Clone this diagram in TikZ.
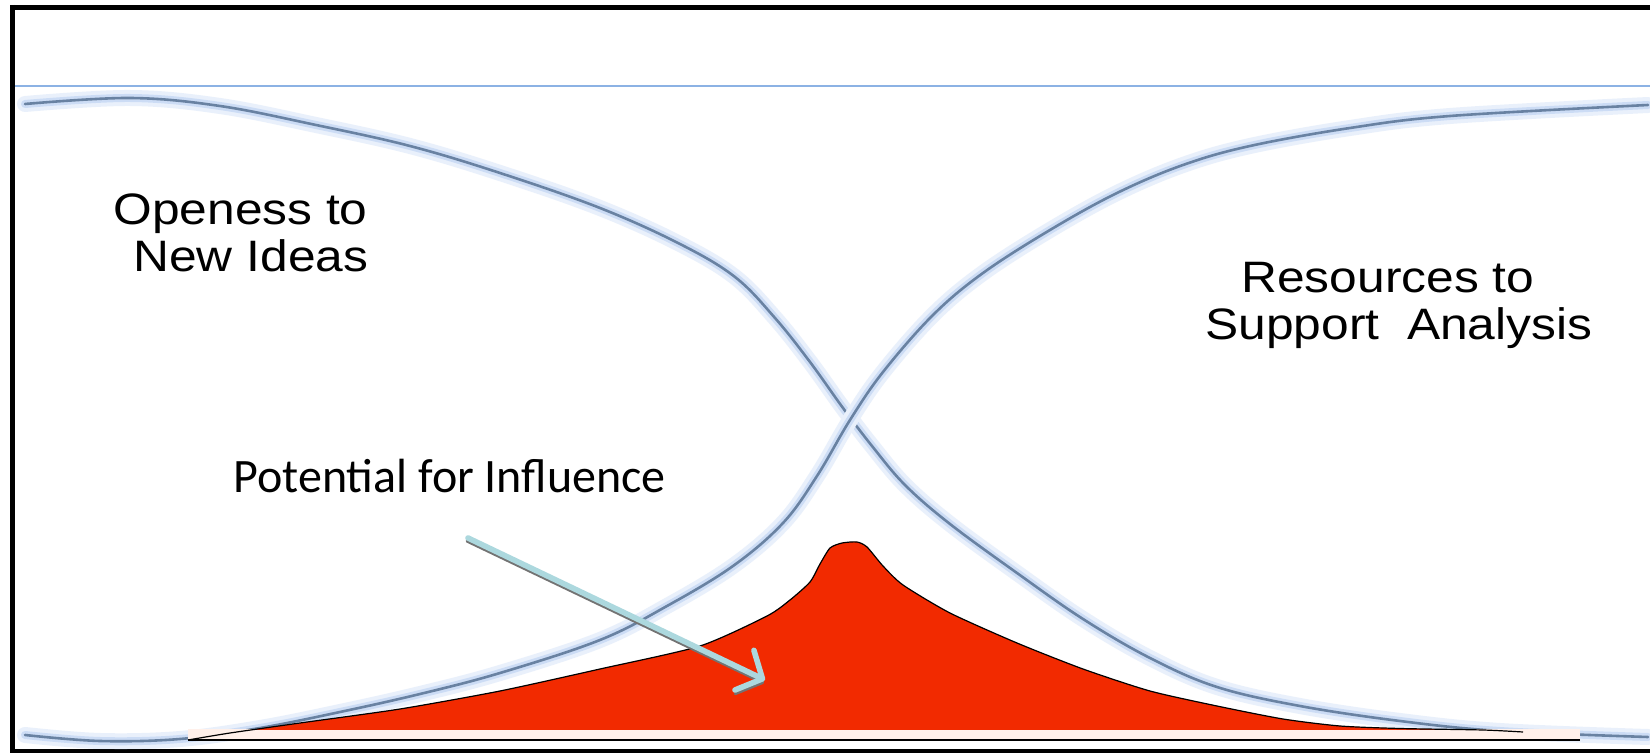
\documentclass[tikz,border=0pt]{standalone}
\usepackage{fontspec}
\usetikzlibrary{arrows.meta}
\newfontfamily\calfont{Carlito}
\newfontfamily\hvfont[FakeStretch=1.13]{Liberation Sans}
\definecolor{curvecore}{RGB}{105,130,162}
\definecolor{curveglow}{RGB}{185,208,242}
\definecolor{infred}{RGB}{242,42,0}
\definecolor{arrowblue}{RGB}{172,216,222}
\definecolor{rulerblue}{RGB}{140,178,228}
\definecolor{bandpink}{RGB}{255,240,234}
\tikzset{
  wideglow/.style={curveglow, line width=8pt, line cap=round, opacity=0.3},
  glowline/.style={curveglow, line width=4pt, line cap=round, opacity=0.6},
  coreline/.style={curvecore, line width=1.3pt, line cap=round},
  frameline/.style={black, line width=2.5pt},
  hvtext/.style={font=\hvfont\fontsize{22pt}{26pt}\selectfont, inner sep=0pt, anchor=base west},
  caltext/.style={font=\calfont\fontsize{24pt}{28pt}\selectfont, inner sep=0pt, anchor=base west},
  arrowshaft/.style={arrowblue, line width=2.8pt, line cap=round, -{Straight Barb[length=10pt, width=22pt, line width=2.8pt, round]}},
  arrowshade/.style={black!55, line width=1.4pt, line cap=round, -{Straight Barb[length=10pt, width=22pt, line width=1.4pt, round]}},
}
\begin{document}
\begin{tikzpicture}[x=0.5pt,y=-0.5pt]
\useasboundingbox (0,0) rectangle (1650,753);
\fill[white] (0,0) rectangle (1650,753);

% frame
\draw[frameline] (10,8) -- (1650,8);
\draw[frameline] (12.5,5) -- (12.5,753);
\draw[black, line width=2pt] (10,751) -- (1650,751);
\draw[rulerblue, line width=0.6pt] (15,86) -- (1650,86);

% curve 1: Openess (decreasing)
\def\curveone{(25,104) (130,98) (220,106) (316,125) (410,146) (500,173) (600,208) (680,244) (735,277) (775,318) (810,362) (843,408) (872,446) (905,485) (950,524) (1017,573) (1083,619) (1150,658) (1217,687) (1300,706) (1400,721) (1500,731) (1648,737)}
% curve 2: Resources (increasing)
\def\curvetwo{(25,735) (100,741) (180,739) (260,728) (340,712) (420,694) (500,673) (600,640) (667,606) (733,566) (783,523) (817,476) (850,420) (883,372) (933,315) (983,273) (1050,230) (1117,193) (1183,165) (1250,146) (1350,128) (1450,116) (1648,105)}

\draw[wideglow] plot[smooth, tension=0.6] coordinates {\curveone};
\draw[glowline] plot[smooth, tension=0.6] coordinates {\curveone};
\draw[coreline] plot[smooth, tension=0.6] coordinates {\curveone};

\begin{scope}
  \clip (851,417) circle (26);
  \draw[white, line width=8pt] plot[smooth, tension=0.6] coordinates {\curvetwo};
\end{scope}
\draw[wideglow] plot[smooth, tension=0.6] coordinates {\curvetwo};
\draw[glowline] plot[smooth, tension=0.6] coordinates {\curvetwo};
\draw[coreline] plot[smooth, tension=0.6] coordinates {\curvetwo};

% potential for influence area
\fill[bandpink] (188,729) rectangle (1580,739);
\def\redtop{(188,740) (230,733) (300,723) (400,709) (500,691) (600,669) (700,646) (767,616) (790,600) (810,582) (820,564) (830,548) (842,543) (857,542) (867,547) (883,566) (903,585) (950,613) (1017,643) (1083,669) (1150,691) (1217,706) (1283,719) (1340,726) (1400,728.5) (1483,730) (1523,732)}
\begin{scope}
  \clip (0,0) rectangle (1650,729);
  \fill[infred] plot[smooth, tension=0.4] coordinates {\redtop} -- (1523,760) -- (188,760) -- cycle;
\end{scope}
\draw[black, line width=0.6pt] plot[smooth, tension=0.4] coordinates {\redtop};
\draw[black, line width=0.8pt] (188,740) -- (1580,740);

% labels
\node[hvtext] (open1) at (113,225) {Openess to};
\node[hvtext] (open2) at (133,272) {New Ideas};
\node[hvtext] (res1) at (1241,293) {Resources to};
\node[hvtext] (res2) at (1205,340) {Support~~Analysis};
\node[caltext] (pot) at (233,493) {Potential for Influence};

% arrow
\coordinate (arrstart) at (468,538);
\coordinate (arrtip) at (765,680);
\begin{scope}[transform canvas={shift={(-0.5pt,-1.6pt)}}]
  \draw[arrowshade] (arrstart) -- (arrtip);
\end{scope}
\draw[arrowshaft] (arrstart) -- (arrtip);
\end{tikzpicture}
\end{document}
